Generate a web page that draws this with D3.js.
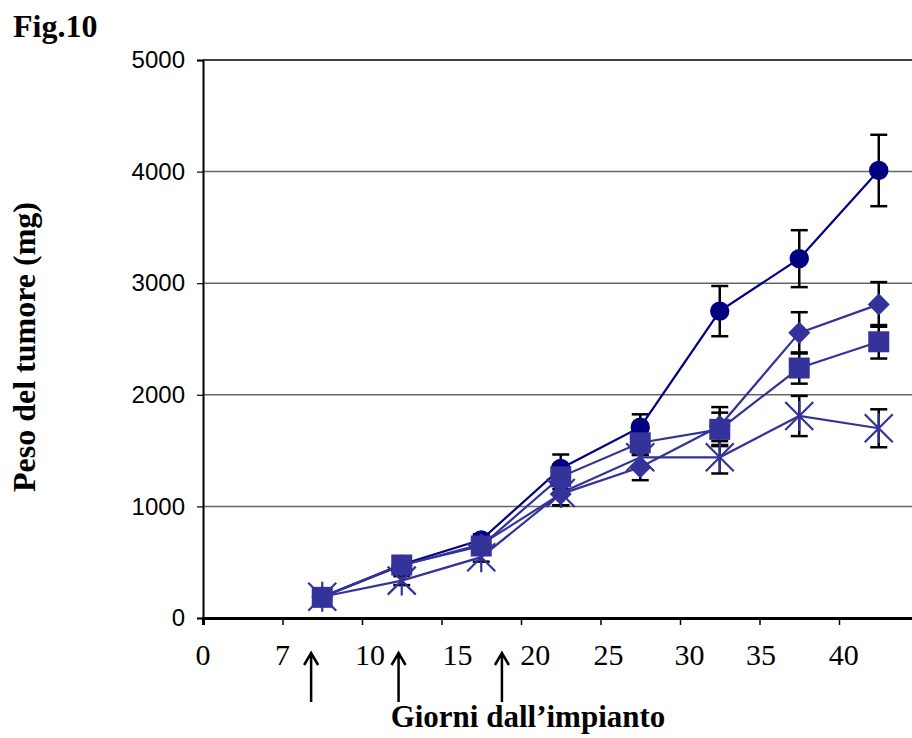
<!DOCTYPE html>
<html>
<head>
<meta charset="utf-8">
<script src="https://cdn.jsdelivr.net/npm/d3@7"></script>
<style>
  body { margin: 0; background: #fff; }
  svg { display: block; }
</style>
</head>
<body>
<div id="chart"></div>
<script>
// Days of measurement (x) and tumour weight (mg) per group
const days = [7.5, 12.5, 17.5, 22.5, 27.5, 32.5, 37.5, 42.5];

const circleValues = [190, 480, 700, 1340, 1710, 2750, 3220, 4010];
const circleErrors = [30, 40, 50, 125, 115, 225, 255, 320];

const diamondValues = [190, 470, 660, 1110, 1350, 1720, 2555, 2810];
const diamondErrors = [30, 40, 50, 100, 115, 170, 185, 200];

const squareValues = [185, 475, 645, 1265, 1570, 1690, 2240, 2475];
const squareErrors = [30, 40, 50, 110, 110, 150, 140, 150];

const starValues = [190, 335, 545, 1120, 1440, 1440, 1810, 1700];
const starErrors = [30, 40, 40, 110, 100, 145, 180, 170];

// Axis ticks and labels (the labels sit where the original typed them)
const xTicks = [0, 5, 10, 15, 20, 25, 30, 35, 40];
const xTickLabels = ["0", "7", "10", "15", "20", "25", "30", "35", "40"];
const xTickLabelAt = [0, 5, 10.5, 16, 20.9, 25.5, 30.6, 35.1, 40.3];
const yTicks = [0, 1000, 2000, 3000, 4000, 5000];

// Treatment days marked with arrows under the axis
const arrowDays = [6.8, 12.3, 18.8];

function pageLoad() {

  const margin = { top: 60, left: 203 };
  const width = 715.5;
  const height = 558;

  const svg = d3.select("#chart")
    .append("svg")
      .attr("width", 912)
      .attr("height", 738)
      .style("overflow", "hidden");

  const g = svg.append("g")
    .attr("transform", "translate(" + margin.left + "," + margin.top + ")");

  const x = d3.scaleLinear().domain([0, 45]).range([0, width]);
  const y = d3.scaleLinear().domain([0, 5000]).range([height, 0]);

  // Gridlines
  g.append("g")
    .selectAll("line")
    .data(yTicks.filter(d => d > 0))
    .join("line")
      .attr("x1", 0)
      .attr("x2", width)
      .attr("y1", d => y(d))
      .attr("y2", d => y(d))
      .attr("stroke", d => d === 5000 ? "#000" : "#666")
      .attr("stroke-width", 1.5);

  // Y axis
  const yAxis = g.append("g")
    .call(d3.axisLeft(y).tickValues(yTicks).tickFormat(d3.format("d")).tickSize(6).tickPadding(12));
  yAxis.select(".domain").attr("stroke", "#000").attr("stroke-width", 2);
  yAxis.selectAll(".tick line").attr("stroke", "#000").attr("stroke-width", 1.2);
  yAxis.selectAll("text")
    .style("font-family", "'Liberation Sans', Arial, sans-serif")
    .style("font-size", "24px")
    .attr("fill", "#000");

  // X axis
  const xAxis = g.append("g")
    .attr("transform", "translate(0," + height + ")")
    .call(d3.axisBottom(x).tickValues(xTicks).tickSize(7).tickFormat(""));
  xAxis.select(".domain").attr("stroke", "#000").attr("stroke-width", 3);
  xAxis.selectAll(".tick line").attr("stroke", "#000").attr("stroke-width", 1.5);

  g.append("g")
    .selectAll("text")
    .data(xTickLabels)
    .join("text")
      .attr("x", (d, i) => x(xTickLabelAt[i]))
      .attr("y", height + 47)
      .attr("text-anchor", "middle")
      .style("font-family", "'Liberation Serif', 'Times New Roman', serif")
      .style("font-size", "30px")
      .text(d => d);

  // Arrows for treatment days
  const arrows = g.append("g")
    .attr("stroke", "#000")
    .attr("stroke-width", 2.5)
    .attr("fill", "none");
  arrows.selectAll("path")
    .data(arrowDays)
    .join("path")
      .attr("d", d => {
        const ax = x(d);
        const top = height + 35;
        return "M" + ax + "," + (height + 84) + "V" + top +
          "M" + (ax - 7) + "," + (top + 12) + "L" + ax + "," + top + "L" + (ax + 7) + "," + (top + 12);
      });

  // Series
  const series = [
    { values: circleValues, errors: circleErrors, color: "#000080", shape: "circle" },
    { values: diamondValues, errors: diamondErrors, color: "#333399", shape: "diamond" },
    { values: squareValues, errors: squareErrors, color: "#333399", shape: "square" },
    { values: starValues, errors: starErrors, color: "#333399", shape: "star" }
  ];

  // Error bars
  const errG = g.append("g").attr("stroke", "#000").attr("stroke-width", 2.5);
  series.forEach(s => {
    days.forEach((d, i) => {
      const cx = x(d);
      const y0 = y(s.values[i] - s.errors[i]);
      const y1 = y(s.values[i] + s.errors[i]);
      errG.append("line").attr("x1", cx).attr("x2", cx).attr("y1", y0).attr("y2", y1);
      errG.append("line").attr("x1", cx - 8.5).attr("x2", cx + 8.5).attr("y1", y0).attr("y2", y0);
      errG.append("line").attr("x1", cx - 8.5).attr("x2", cx + 8.5).attr("y1", y1).attr("y2", y1);
    });
  });

  const line = d3.line()
    .x((d, i) => x(days[i]))
    .y(d => y(d));

  const starPath = "M-14,-14L14,14M-14,14L14,-14M0,-15V15";

  series.forEach(s => {
    g.append("path")
      .datum(s.values)
      .attr("fill", "none")
      .attr("stroke", s.color)
      .attr("stroke-width", 2.2)
      .attr("d", line);

    const marks = g.append("g")
      .selectAll("path")
      .data(s.values)
      .join("path")
        .attr("transform", (d, i) => "translate(" + x(days[i]) + "," + y(d) + ")");

    if (s.shape === "circle") {
      marks.attr("d", d3.symbol(d3.symbolCircle, Math.PI * 9.7 * 9.7)).attr("fill", s.color);
    } else if (s.shape === "square") {
      marks.attr("d", d3.symbol(d3.symbolSquare, 21 * 21)).attr("fill", s.color);
    } else if (s.shape === "diamond") {
      marks.attr("d", d3.symbol(d3.symbolSquare, 15.6 * 15.6))
        .attr("transform", (d, i) => "translate(" + x(days[i]) + "," + y(d) + ") rotate(45)")
        .attr("fill", s.color);
    } else {
      marks.attr("d", starPath)
        .attr("fill", "none")
        .attr("stroke", s.color)
        .attr("stroke-width", 2.2);
    }
  });

  // Titles
  svg.append("text")
    .attr("x", 13)
    .attr("y", 37)
    .style("font-family", "'Liberation Serif', 'Times New Roman', serif")
    .style("font-weight", "bold")
    .style("font-size", "32px")
    .text("Fig.10");

  svg.append("text")
    .attr("x", 528)
    .attr("y", 727)
    .attr("text-anchor", "middle")
    .style("font-family", "'Liberation Serif', 'Times New Roman', serif")
    .style("font-weight", "bold")
    .style("font-size", "31px")
    .text("Giorni dall\u2019impianto");

  svg.append("text")
    .attr("transform", "translate(35,347) rotate(-90)")
    .attr("text-anchor", "middle")
    .style("font-family", "'Liberation Serif', 'Times New Roman', serif")
    .style("font-weight", "bold")
    .style("font-size", "32px")
    .text("Peso del tumore (mg)");
}

window.addEventListener("load", pageLoad);
</script>
</body>
</html>
